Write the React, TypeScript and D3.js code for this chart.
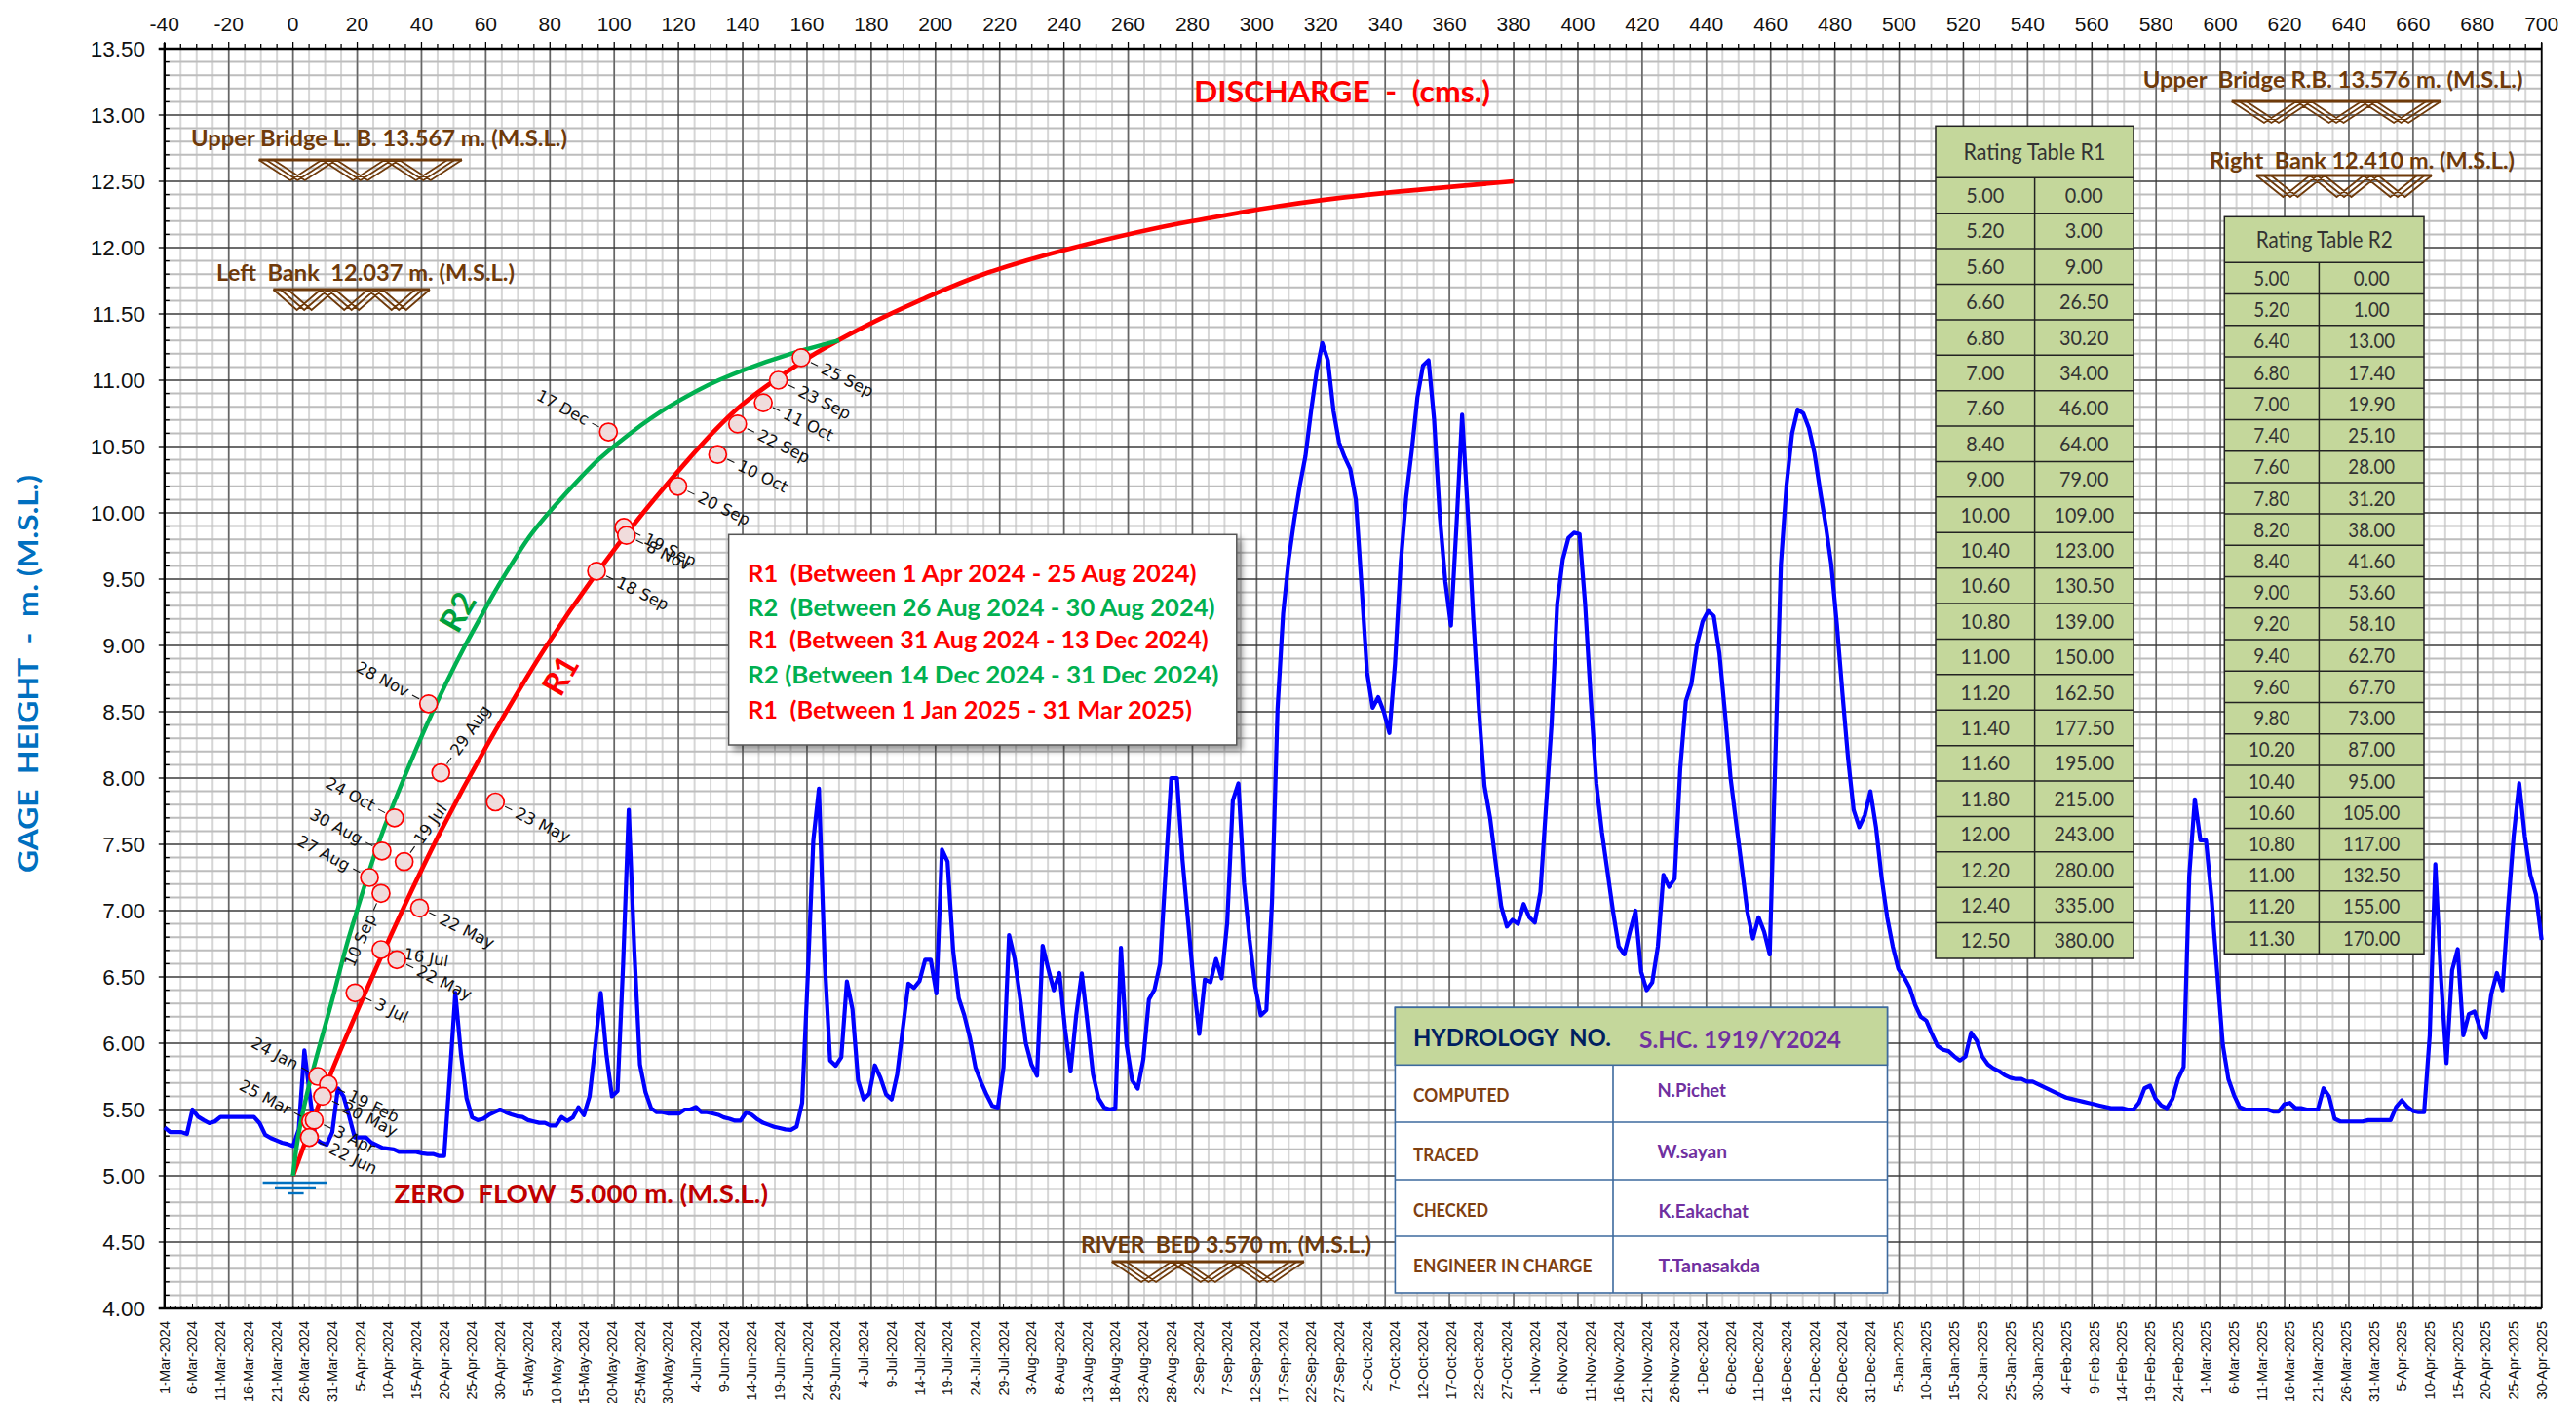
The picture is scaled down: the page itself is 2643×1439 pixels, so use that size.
import React from "react";
import * as d3 from "d3";

// ---------- DATA ----------
const startDate = new Date(Date.UTC(2024, 2, 1));
const stage: number[] = [
5.365,5.33,5.33,5.33,5.316,5.5,5.446,5.42,5.397,5.41,
5.444,5.444,5.444,5.444,5.444,5.444,5.444,5.397,5.31,5.285,
5.267,5.25,5.24,5.225,5.35,5.946,5.6,5.28,5.25,5.235,
5.33,5.66,5.6,5.45,5.29,5.29,5.29,5.25,5.23,5.21,
5.205,5.2,5.18,5.18,5.18,5.18,5.17,5.165,5.165,5.15,
5.15,5.75,6.38,5.92,5.586,5.44,5.42,5.43,5.46,5.48,
5.5,5.48,5.463,5.45,5.444,5.42,5.41,5.4,5.4,5.38,
5.38,5.444,5.414,5.44,5.517,5.458,5.6,5.97,6.38,5.92,
5.6,5.64,6.6,7.76,6.7,5.84,5.63,5.51,5.48,5.48,
5.47,5.47,5.47,5.5,5.5,5.52,5.48,5.48,5.47,5.46,
5.44,5.43,5.416,5.416,5.48,5.46,5.426,5.4,5.385,5.37,
5.36,5.35,5.346,5.37,5.55,6.5,7.53,7.92,6.65,5.87,
5.83,5.895,6.466,6.257,5.72,5.576,5.62,5.833,5.74,5.615,
5.576,5.767,6.11,6.45,6.417,6.47,6.63,6.63,6.375,7.46,
7.37,6.7,6.34,6.21,6.04,5.816,5.706,5.61,5.527,5.515,
5.816,6.816,6.637,6.33,6.0,5.84,5.755,6.735,6.56,6.4,
6.53,6.11,5.787,6.21,6.527,6.16,5.767,5.583,5.515,5.5,
5.51,6.72,5.99,5.72,5.657,5.877,6.33,6.404,6.6,7.31,
8.0,8.0,7.385,6.92,6.45,6.07,6.48,6.46,6.635,6.49,
6.91,7.83,7.96,7.21,6.78,6.43,6.21,6.25,7.06,8.52,
9.24,9.65,9.95,10.21,10.43,10.77,11.07,11.28,11.15,10.77,
10.53,10.42,10.33,10.1,9.46,8.8,8.53,8.61,8.5,8.34,
8.86,9.61,10.12,10.47,10.87,11.11,11.15,10.7,9.98,9.48,
9.15,9.91,10.74,10.02,9.2,8.52,7.94,7.7,7.36,7.03,
6.88,6.93,6.9,7.05,6.95,6.91,7.14,7.78,8.41,9.31,
9.65,9.81,9.85,9.84,9.31,8.6,7.96,7.59,7.29,6.99,
6.73,6.67,6.84,7.0,6.54,6.4,6.46,6.73,7.27,7.18,
7.24,8.07,8.58,8.71,9.01,9.18,9.26,9.22,8.94,8.49,
8.0,7.66,7.33,6.99,6.79,6.95,6.84,6.67,8.15,9.61,
10.21,10.6,10.78,10.75,10.64,10.45,10.17,9.91,9.61,9.16,
8.64,8.15,7.76,7.63,7.72,7.9,7.63,7.25,6.95,6.73,
6.56,6.5,6.42,6.29,6.2,6.17,6.07,5.98,5.95,5.94,
5.9,5.87,5.9,6.08,6.02,5.9,5.84,5.81,5.79,5.76,
5.74,5.73,5.73,5.71,5.71,5.69,5.67,5.65,5.63,5.61,
5.59,5.58,5.57,5.56,5.55,5.54,5.53,5.52,5.51,5.51,
5.51,5.5,5.5,5.55,5.66,5.68,5.58,5.53,5.51,5.58,
5.73,5.82,7.26,7.84,7.53,7.53,7.09,6.53,5.99,5.73,
5.61,5.52,5.5,5.5,5.5,5.5,5.5,5.485,5.485,5.54,
5.55,5.51,5.51,5.5,5.5,5.5,5.66,5.6,5.43,5.41,
5.41,5.41,5.41,5.41,5.42,5.42,5.42,5.42,5.42,5.52,
5.57,5.52,5.49,5.48,5.48,6.06,7.35,6.5,5.85,6.55,
6.71,6.06,6.22,6.24,6.11,6.04,6.37,6.53,6.4,7.02,
7.56,7.96,7.56,7.27,7.12,6.78,
];

const r1Gage = [5.0,5.2,5.6,6.6,6.8,7.0,7.6,8.4,9.0,10.0,10.4,10.6,10.8,11.0,11.2,11.4,11.6,11.8,12.0,12.2,12.4,12.5];
const r1Q = [0,3,9,26.5,30.2,34,46,64,79,109,123,130.5,139,150,162.5,177.5,195,215,243,280,335,380];
const r2Gage = [5.0,5.2,6.4,6.8,7.0,7.4,7.6,7.8,8.2,8.4,9.0,9.2,9.4,9.6,9.8,10.2,10.4,10.6,10.8,11.0,11.2,11.3];
const r2Q = [0,1,13,17.4,19.9,25.1,28,31.2,38,41.6,53.6,58.1,62.7,67.7,73,87,95,105,117,132.5,155,170];

const gaugeLabels = ["25 Sep","23 Sep","11 Oct","22 Sep","10 Oct","20 Sep","19 Sep","8 Nov","18 Sep","17 Dec","28 Nov","29 Aug","23 May","24 Oct","30 Aug","19 Jul","27 Aug","10 Sep","22 May","16 Jul","22 May","3 Jul","24 Jan","19 Feb","20 May","25 Mar","3 Apr","22 Jun"];
const gaugeQ = [158.2,151.1,146.4,138.4,132.2,119.8,103,103.8,94.5,98.2,42.2,46,63,31.6,27.7,34.6,23.8,27.4,39.4,27.4,32.3,19.3,7.7,11,9.2,5.5,6.6,5.1];
const gaugeH = [11.17,11.0,10.83,10.67,10.44,10.2,9.89,9.83,9.56,10.61,8.56,8.04,7.82,7.7,7.45,7.37,7.25,7.13,7.02,6.706,6.63,6.38,5.75,5.69,5.6,5.41,5.42,5.29];
const gaugeSide = ["r","r","r","r","r","r","r","r","r","l","l","u","r","l","l","u","l","d","r","f","r","r","l","r","r","l","r","r"];

const legendLines = [
  "R1  (Between 1 Apr 2024 - 25 Aug 2024)",
  "R2  (Between 26 Aug 2024 - 30 Aug 2024)",
  "R1  (Between 31 Aug 2024 - 13 Dec 2024)",
  "R2 (Between 14 Dec 2024 - 31 Dec 2024)",
  "R1  (Between 1 Jan 2025 - 31 Mar 2025)",
];
const infoRoles = ["COMPUTED", "TRACED", "CHECKED", "ENGINEER IN CHARGE"];
const infoNames = ["N.Pichet", "W.sayan", "K.Eakachat", "T.Tanasakda"];

// ---------- LAYOUT ----------
const W = 2643, H = 1439;
const L = 168.8, R = 2607.7, T = 50, B = 1342;
const x = d3.scaleLinear().domain([-40, 700]).range([L, R]);
const y = d3.scaleLinear().domain([4, 13.5]).range([B, T]);
const endDate = d3.utcDay.offset(startDate, stage.length - 1);
const t = d3.scaleUtc().domain([startDate, endDate]).range([L, R]);
const fmtDate = d3.utcFormat("%-d-%b-%Y");

const days = d3.range(stage.length).map((i) => d3.utcDay.offset(startDate, i));
const stageLine = d3.line<number>().x((_, i) => t(days[i])).y((d) => y(d)).curve(d3.curveLinear);
const rateLine = d3.line<[number, number]>().x((d) => x(d[0])).y((d) => y(d[1])).curve(d3.curveMonotoneY);

const xMajor = d3.range(-40, 701, 20);
const xMinor = d3.range(-40, 701, 5);
const yMinor = d3.range(0, 96).map((i) => 4 + i * 0.1);
const yMajor = d3.range(0, 20).map((i) => 4 + i * 0.5);

const BROWN = "#6f3a0a";
const CAL = "Lato, 'Noto Sans', sans-serif";
const ARIAL = "'Liberation Sans', Arial, sans-serif";

function Txt({ x0, x1, by, size, fill, weight = 700, children }: any) {
  return (
    <text x={x0} y={by} fontSize={size} fontFamily={CAL} fontWeight={weight} fill={fill}
      textLength={x1 - x0} lengthAdjust="spacingAndGlyphs" style={{ whiteSpace: "pre" }}>
      {children}
    </text>
  );
}

function Truss({ x0, x1, y0, y1 }: any) {
  const bays = 3;
  const off = 7.5;
  const bw = (x1 - x0 - 2 * off) / bays;
  const polys: string[] = [];
  [0, 1, 2].forEach((k) => {
    for (let b = 0; b < bays; b++) {
      const a = x0 + b * bw + k * off;
      polys.push(`M${a},${y0} L${a + bw / 2},${y1} L${a + bw},${y0}`);
    }
  });
  return (
    <g>
      <path d={polys.join(" ")} fill="none" stroke={BROWN} strokeWidth={1.8} />
      <line x1={x0} x2={x1} y1={y0} y2={y0} stroke={BROWN} strokeWidth={3.2} />
    </g>
  );
}

function RatingTable({ title, gage, q, x0, x1, xc, top, head, bottom, size, titleW, numScale }: any) {
  const rh = (bottom - head) / gage.length;
  const fix = (v: number) => v.toFixed(2);
  const width = (s: string) => (s.length - 1) * numScale + numScale * 0.5;
  return (
    <g>
      <rect x={x0} y={top} width={x1 - x0} height={bottom - top} fill="#c4d79b" stroke="#222" strokeWidth={1.5} />
      <text x={(x0 + x1) / 2} y={(top + head) / 2 + 8} textAnchor="middle" fontSize={size + 2} fontFamily={CAL} fill="#333"
        textLength={titleW} lengthAdjust="spacingAndGlyphs">{title}</text>
      <line x1={x0} x2={x1} y1={head} y2={head} stroke="#222" strokeWidth={1.5} />
      <line x1={xc} x2={xc} y1={head} y2={bottom} stroke="#222" strokeWidth={1.5} />
      {gage.map((g: number, i: number) => {
        const yy = head + rh * i;
        const by = yy + rh / 2 + 7.5;
        const a = fix(g), b = fix(q[i]);
        return (
          <g key={i}>
            {i > 0 && <line x1={x0} x2={x1} y1={yy} y2={yy} stroke="#222" strokeWidth={1.5} />}
            <text x={(x0 + xc) / 2} y={by} textAnchor="middle" fontSize={size} fontFamily={CAL} fill="#333"
              textLength={width(a)} lengthAdjust="spacingAndGlyphs">{a}</text>
            <text x={(xc + x1) / 2} y={by} textAnchor="middle" fontSize={size} fontFamily={CAL} fill="#333"
              textLength={width(b)} lengthAdjust="spacingAndGlyphs">{b}</text>
          </g>
        );
      })}
    </g>
  );
}

const MR = 9;
function Gauge({ label, q, h, side }: any) {
  const px = x(q), py = y(h);
  const textProps = { fontSize: 16.5, fontFamily: "'DejaVu Sans', sans-serif", fill: "#111", dominantBaseline: "central" as const };
  const spec: any = {
    r: { rot: 26, sgn: 1 },
    f: { rot: 10, sgn: 1 },
    l: { rot: 28, sgn: -1 },
    u: { rot: -55, sgn: 1 },
    d: { rot: -66, sgn: -1 },
  }[side];
  const s = spec.sgn;
  return (
    <g transform={`translate(${px},${py}) rotate(${spec.rot})`}>
      <line x1={s * (MR + 2)} x2={s * (MR + 10)} y1={0} y2={0} stroke="#111" strokeWidth={1.1} />
      <text x={s * (MR + 15)} y={0} textAnchor={s > 0 ? "start" : "end"} {...textProps}>{label}</text>
    </g>
  );
}

export default function App() {
  const r1 = r1Q.map((q, i) => [q, r1Gage[i]] as [number, number]);
  const r2 = r2Q.map((q, i) => [q, r2Gage[i]] as [number, number]);
  const legendEnds = [1227.5, 1246.6, 1239.7, 1250.5, 1223];
  const legendBase = [596.7, 631.7, 665, 700.7, 736.7];
  const roleEnds = [1548.5, 1516.7, 1527, 1633.4];
  const roleBase = [1130, 1191, 1248, 1305];
  const nameStart = [1700.4, 1700.4, 1701.6, 1701.6];
  const nameEnds = [1771, 1772, 1794, 1806];
  const nameBase = [1125, 1188, 1249, 1305];
  return (
    <svg width={W} height={H} viewBox={`0 0 ${W} ${H}`} style={{ position: "absolute", left: 0, top: 0, background: "#fff" }}>
      <defs>
        <filter id="sh" x="-5%" y="-5%" width="112%" height="115%">
          <feDropShadow dx={5} dy={5} stdDeviation={3} floodColor="#000" floodOpacity={0.4} />
        </filter>
      </defs>

      {/* grid */}
      {xMinor.map((v) => (
        <line key={"vm" + v} x1={x(v)} x2={x(v)} y1={T} y2={B} stroke="#d6d6d6" strokeWidth={2} />
      ))}
      {yMinor.map((v) => (
        <line key={"hm" + v} x1={L} x2={R} y1={y(v)} y2={y(v)} stroke="#bdbdbd" strokeWidth={2} />
      ))}
      {xMajor.map((v) => (
        <line key={"vM" + v} x1={x(v)} x2={x(v)} y1={T} y2={B} stroke="#666" strokeWidth={1.6} />
      ))}
      {yMajor.map((v) => (
        <line key={"hM" + v} x1={L} x2={R} y1={y(v)} y2={y(v)} stroke="#1c1c1c" strokeWidth={1.1} />
      ))}

      {/* axes */}
      <line x1={L - 6} x2={R} y1={T} y2={T} stroke="#000" strokeWidth={2.4} />
      <line x1={L - 6} x2={R} y1={B} y2={B} stroke="#000" strokeWidth={2.4} />
      <line x1={L} x2={L} y1={T - 6} y2={B} stroke="#000" strokeWidth={2.4} />
      <line x1={R} x2={R} y1={T - 6} y2={B} stroke="#000" strokeWidth={1.6} />
      {xMinor.map((v) => (
        <line key={"tt" + v} x1={x(v)} x2={x(v)} y1={T - (v % 20 === 0 ? 7 : 5)} y2={T} stroke="#000" strokeWidth={1.3} />
      ))}
      {yMinor.map((v, i) => (
        <line key={"lt" + v} x1={L - (i % 5 === 0 ? 6 : 0)} x2={L + (i % 5 === 0 ? 0 : 5)} y1={y(v)} y2={y(v)} stroke="#000" strokeWidth={1.3} />
      ))}
      {days.map((d, i) => (
        <line key={"bt" + i} x1={t(d)} x2={t(d)} y1={B - (i % 5 === 0 ? 5 : 3)} y2={B} stroke="#000" strokeWidth={1} />
      ))}

      {xMajor.map((v) => (
        <text key={"xl" + v} x={x(v)} y={32} textAnchor="middle" fontSize={21} fontFamily={ARIAL} fill="#111">{v}</text>
      ))}
      {yMajor.map((v) => (
        <text key={"yl" + v} x={149} y={y(v) + 8} textAnchor="end" fontSize={22.5} fontFamily={ARIAL} fill="#111">{v.toFixed(2)}</text>
      ))}
      {days.filter((_, i) => i % 5 === 0).map((d, i) => (
        <text key={"dl" + i} transform={`translate(${t(d)},1355) rotate(-90)`} textAnchor="end" dominantBaseline="central"
          fontSize={14.5} fontFamily={ARIAL} fill="#111">{fmtDate(d)}</text>
      ))}

      {/* titles */}
      <text transform={`translate(39,691) rotate(-90)`} textAnchor="middle" fontSize={29} fontFamily={CAL} fontWeight={700} fill="#0070c0"
        textLength={408} lengthAdjust="spacingAndGlyphs" style={{ whiteSpace: "pre" }}>GAGE  HEIGHT  -  m. (M.S.L.)</text>
      <Txt x0={1225} x1={1529} by={105} size={31} fill="#ff0000">DISCHARGE  -  (cms.)</Txt>

      {/* structures */}
      <Txt x0={196} x1={582} by={150} size={23} fill={BROWN}>Upper Bridge L. B. 13.567 m. (M.S.L.)</Txt>
      <Truss x0={265.6} x1={474} y0={164} y1={185} />
      <Txt x0={222} x1={528} by={288} size={23} fill={BROWN}>Left  Bank  12.037 m. (M.S.L.)</Txt>
      <Truss x0={280.4} x1={441} y0={297} y1={318} />
      <Txt x0={2198.7} x1={2588.5} by={90} size={23} fill={BROWN}>Upper  Bridge R.B. 13.576 m. (M.S.L.)</Txt>
      <Truss x0={2289.7} x1={2504.4} y0={104} y1={126} />
      <Txt x0={2267} x1={2580} by={173} size={23} fill={BROWN}>Right  Bank 12.410 m. (M.S.L.)</Txt>
      <Truss x0={2315} x1={2495} y0={180} y1={202} />
      <Txt x0={1109} x1={1407} by={1285} size={23} fill={BROWN}>RIVER  BED 3.570 m. (M.S.L.)</Txt>
      <Truss x0={1140.7} x1={1338} y0={1294} y1={1315} />
      <Txt x0={404.5} x1={788} by={1234} size={27} fill="#c00000">ZERO  FLOW  5.000 m. (M.S.L.)</Txt>

      {/* water level */}
      <line x1={269.6} x2={336} y1={1213} y2={1213} stroke="#0070c0" strokeWidth={2.4} />
      <line x1={282} x2={324} y1={1218} y2={1218} stroke="#0070c0" strokeWidth={2.4} />
      <line x1={296} x2={311.6} y1={1224} y2={1224} stroke="#0070c0" strokeWidth={2.4} />

      {/* series */}
      <path d={stageLine(stage) as string} fill="none" stroke="#0000ff" strokeWidth={4.2} strokeLinejoin="round" />
      <path d={rateLine(r1) as string} fill="none" stroke="#ff0000" strokeWidth={4.6} />
      <path d={rateLine(r2) as string} fill="none" stroke="#00b050" strokeWidth={4.4} />

      <text transform="translate(574,692) rotate(-60)" textAnchor="middle" dominantBaseline="central" fontSize={33} fontFamily={CAL} fontWeight={700} fill="#ff0000">R1</text>
      <text transform="translate(468.5,627) rotate(-60)" textAnchor="middle" dominantBaseline="central" fontSize={33} fontFamily={CAL} fontWeight={700} fill="#00a03c">R2</text>

      {/* gaugings */}
      {gaugeLabels.map((g, i) => (
        <Gauge key={"gl" + i} label={g} q={gaugeQ[i]} h={gaugeH[i]} side={gaugeSide[i]} />
      ))}
      {gaugeLabels.map((g, i) => (
        <circle key={"gm" + i} cx={x(gaugeQ[i])} cy={y(gaugeH[i])} r={MR} fill="#f0dcdc" stroke="#ff0000" strokeWidth={1.7} />
      ))}

      {/* legend */}
      <rect x={747.6} y={548.3} width={521.2} height={215.7} fill="#fff" stroke="#555" strokeWidth={1.5} filter="url(#sh)" />
      {legendLines.map((s, i) => (
        <Txt key={s} x0={767} x1={legendEnds[i]} by={legendBase[i]} size={25} fill={i % 2 === 0 ? "#ff0000" : "#00b050"}>{s}</Txt>
      ))}

      {/* rating tables */}
      <RatingTable title="Rating Table R1" gage={r1Gage} q={r1Q} x0={1986} x1={2189} xc={2087.6} top={129.3} head={182.3} bottom={983} size={22} titleW={146} numScale={11.2} />
      <RatingTable title="Rating Table R2" gage={r2Gage} q={r2Q} x0={2282.3} x1={2487} xc={2379.4} top={222.3} head={269.3} bottom={978.3} size={21} titleW={140} numScale={10.6} />

      {/* info table */}
      <rect x={1431.4} y={1033.3} width={505.1} height={292.7} fill="#fff" stroke="#3d6a9e" strokeWidth={1.6} />
      <rect x={1431.4} y={1033.3} width={505.1} height={59} fill="#c4d79b" stroke="#3d6a9e" strokeWidth={1.6} />
      {[1151, 1210, 1268].map((v) => (
        <line key={v} x1={1431.4} x2={1936.5} y1={v} y2={v} stroke="#3d6a9e" strokeWidth={1.6} />
      ))}
      <line x1={1655} x2={1655} y1={1092.3} y2={1326} stroke="#3d6a9e" strokeWidth={1.6} />
      <Txt x0={1450} x1={1653} by={1072.7} size={25} fill="#002060">HYDROLOGY  NO.</Txt>
      <Txt x0={1682} x1={1889} by={1075} size={25} fill="#7030a0">S.HC. 1919/Y2024</Txt>
      {infoRoles.map((s, i) => (
        <Txt key={s} x0={1450} x1={roleEnds[i]} by={roleBase[i]} size={18} fill="#7f4010">{s}</Txt>
      ))}
      {infoNames.map((s, i) => (
        <Txt key={s} x0={nameStart[i]} x1={nameEnds[i]} by={nameBase[i]} size={18} fill="#7030a0">{s}</Txt>
      ))}
    </svg>
  );
}
